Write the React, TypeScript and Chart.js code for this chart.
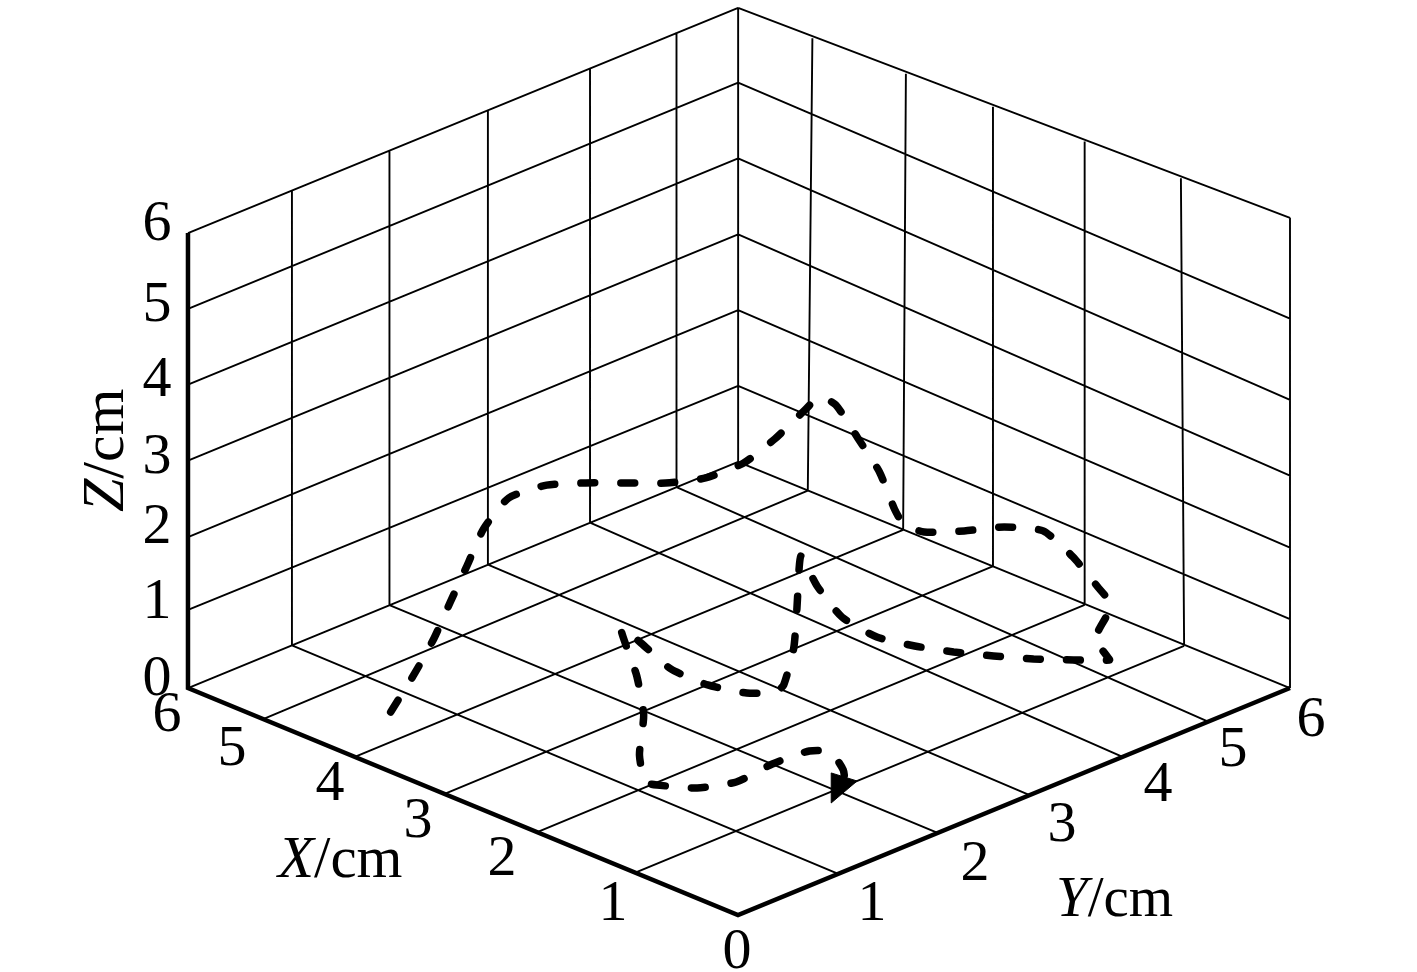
import React, { useEffect, useRef } from "react";
import { Chart, registerables } from "chart.js";

Chart.register(...registerables);

// Tick values as they fall on the drawing's (slightly irregular) axes
const xTickOnAxis = [1.12, 2.19, 3.2, 4.18, 5.18];
const xTickFloorBack = [1.135, 2.22, 3.23, 4.2, 5.24];
const xTickWallTop = [1.17, 2.22, 3.22, 4.17, 5.19];
const xTickWallTopZ = [6.15, 6.11, 6.07, 6.03, 5.99];
const yTickOnAxis = [1.09, 2.17, 3.17, 4.18, 5.11];
const yTickFloorBack = [1.13, 2.19, 3.26, 4.37, 5.31];
const zTickLeft = [0, 1.03, 1.99, 3, 4, 5, 6];
const zTickBack = [0, 1, 2, 3, 4, 5, 5.985];
const zTickRight = [0, 0.91, 1.85, 2.8, 3.8, 4.87, 6.2];
const axisMax = 6;
const backY = 5.98;

const tickLabels = ["0", "1", "2", "3", "4", "5", "6"];

// Trajectory, height 1 cm
const pathZ = 1;
const pathX = [3.575, 3.96, 4.318, 4.707, 5.104, 5.493, 5.766, 5.73, 5.546, 5.328, 5.11, 4.959, 4.95, 5.099, 5.303, 5.41, 5.216, 4.66, 4.092, 3.52, 3.255, 3.054, 2.85, 2.684, 2.42, 1.913, 1.38, 1.07, 0.806, 0.701, 0.558, 0.4, 0.35, 0.546, 0.777, 1.034, 1.305, 1.596, 1.922, 2.376, 2.922, 3.406, 3.258, 2.74, 2.228, 1.793, 1.744, 1.888, 2.207, 2.62, 3.126, 3.434, 3.137, 2.712, 2.158, 1.651, 1.262, 1.157, 0.9, 0.767, 0.809, 0.779, 0.652, 0.343, 0.121];
const pathY = [-0.213, 0.434, 1.0, 1.563, 2.144, 2.707, 3.253, 3.63, 3.87, 4.088, 4.305, 4.589, 4.994, 5.48, 5.989, 6.28, 6.261, 5.945, 5.615, 5.208, 5.05, 5.067, 5.298, 5.568, 5.728, 5.547, 5.286, 5.12, 4.724, 4.564, 4.497, 4.416, 4.387, 4.191, 3.987, 3.809, 3.644, 3.511, 3.424, 3.497, 3.771, 4.08, 3.911, 3.371, 2.826, 2.283, 2.147, 1.976, 1.87, 1.88, 2.06, 2.15, 1.918, 1.602, 1.125, 0.574, 0.25, 0.275, 0.453, 0.745, 1.179, 1.552, 1.653, 1.486, 1.285];

// Arrow head
const arrowX = [-0.028, 0.369, 0.122];
const arrowY = [0.985, 1.381, 1.416];

type P = { x: number; y: number };
const project = (X: number, Y: number, Z: number): P => ({
  x: 738 + 92 * Y - 91.67 * X,
  y: 915 - 37.83 * (X + Y) - 75.83 * Z,
});
const GAP: P = { x: NaN, y: NaN };
const seg = (a: P, b: P): P[] => [a, b, GAP];

function gridPoints(): P[] {
  const out: P[] = [];
  // floor
  xTickOnAxis.forEach((x, i) => out.push(...seg(project(x, 0, 0), project(xTickFloorBack[i], backY, 0))));
  yTickOnAxis.forEach((y, i) => out.push(...seg(project(0, y, 0), project(axisMax, yTickFloorBack[i], 0))));
  out.push(...seg(project(axisMax, 0, 0), project(axisMax, backY, 0)));
  out.push(...seg(project(axisMax, backY, 0), project(0, axisMax, 0)));
  // wall X = 6
  yTickFloorBack.forEach((y) => out.push(...seg(project(axisMax, y, 0), project(axisMax, y, axisMax))));
  zTickLeft.forEach((z, i) => {
    if (i > 0) out.push(...seg(project(axisMax, 0, z), project(axisMax, backY, zTickBack[i])));
  });
  // wall Y = 6
  xTickFloorBack.forEach((x, i) =>
    out.push(...seg(project(x, backY, 0), project(xTickWallTop[i], backY, xTickWallTopZ[i]))),
  );
  zTickBack.forEach((z, i) => {
    if (i > 0) out.push(...seg(project(axisMax, backY, z), project(0, axisMax, zTickRight[i])));
  });
  out.push(...seg(project(axisMax, backY, 0), project(axisMax, backY, zTickBack[6])));
  out.push(...seg(project(0, axisMax, 0), project(0, axisMax, zTickRight[6])));
  return out;
}

const SERIF = '"Liberation Serif", "Times New Roman", serif';
const FONT_SIZE = 58;

const textPlugin = {
  id: "axisText",
  afterDatasetsDraw(chart: any) {
    const ctx: CanvasRenderingContext2D = chart.ctx;
    const sx = chart.scales.x;
    const sy = chart.scales.y;
    ctx.save();
    ctx.fillStyle = "#000";
    ctx.textAlign = "center";
    ctx.textBaseline = "alphabetic";
    ctx.font = `${FONT_SIZE}px ${SERIF}`;
    const zPos: [number, number][] = [[157, 675], [157, 598], [157, 523], [157, 453], [157, 376], [157, 301], [157, 220]];
    const xPos: [number, number][] = [[737, 948], [613, 900], [502, 855], [418, 817], [330, 780], [232, 745], [167, 711]];
    const yPos: [number, number][] = [[737, 948], [872, 900], [975, 860], [1062, 821], [1158, 781], [1233, 746], [1311, 716]];
    const put = (t: string, p: [number, number]) =>
      ctx.fillText(t, sx.getPixelForValue(p[0]), sy.getPixelForValue(p[1]) + 19.6);
    tickLabels.forEach((t, i) => {
      put(t, zPos[i]);
      put(t, xPos[i]);
      if (i > 0) put(t, yPos[i]);
    });
    ctx.textAlign = "left";
    const title = (axis: string, x: number, y: number, rot: number, size: number) => {
      ctx.save();
      ctx.translate(x, y);
      ctx.rotate(rot);
      ctx.font = `italic ${size}px ${SERIF}`;
      ctx.fillText(axis, 0, 0);
      const w = ctx.measureText(axis).width;
      ctx.font = `${size}px ${SERIF}`;
      ctx.fillText("/cm", w, 0);
      ctx.restore();
    };
    title("X", 278, 877, 0, 59);
    title("Y", 1056, 916, 0, 57);
    title("Z", 123, 512, -Math.PI / 2, 60);
    ctx.restore();
  },
};

export default function App() {
  const ref = useRef<HTMLCanvasElement>(null);
  useEffect(() => {
    const common = { showLine: true, pointRadius: 0, borderColor: "#000", clip: false, spanGaps: false };
    const chart = new Chart(ref.current!, {
      type: "scatter",
      data: {
        datasets: [
          {
            ...common,
            label: "arrow",
            order: 0,
            data: [...arrowX.map((x, i) => project(x, arrowY[i], pathZ)), project(arrowX[0], arrowY[0], pathZ)],
            borderWidth: 1,
            backgroundColor: "#000",
            fill: "shape",
          },
          {
            ...common,
            label: "path",
            order: 1,
            data: pathX.map((x, i) => project(x, pathY[i], pathZ)),
            borderWidth: 7.5,
            borderDash: [14, 26],
            borderCapStyle: "round",
            tension: 0.2,
          },
          {
            ...common,
            label: "axes",
            order: 2,
            data: [project(axisMax, 0, axisMax), project(axisMax, 0, 0), project(0, 0, 0), project(0, axisMax, 0)],
            borderWidth: 4.5,
            borderJoinStyle: "miter",
          },
          { ...common, label: "grid", order: 3, data: gridPoints(), borderWidth: 1.9 },
        ] as any,
      },
      options: {
        animation: false,
        responsive: false,
        layout: { padding: 0 },
        plugins: { legend: { display: false }, tooltip: { enabled: false }, title: { display: false } },
        scales: {
          x: { type: "linear", min: 0, max: 1417, display: false },
          y: { type: "linear", min: 0, max: 972, reverse: true, display: false },
        },
      },
      plugins: [textPlugin],
    });
    return () => chart.destroy();
  }, []);
  return (
    <canvas
      ref={ref}
      width={1417}
      height={972}
      style={{ position: "absolute", left: 0, top: 0, display: "block", background: "#fff" }}
    />
  );
}
